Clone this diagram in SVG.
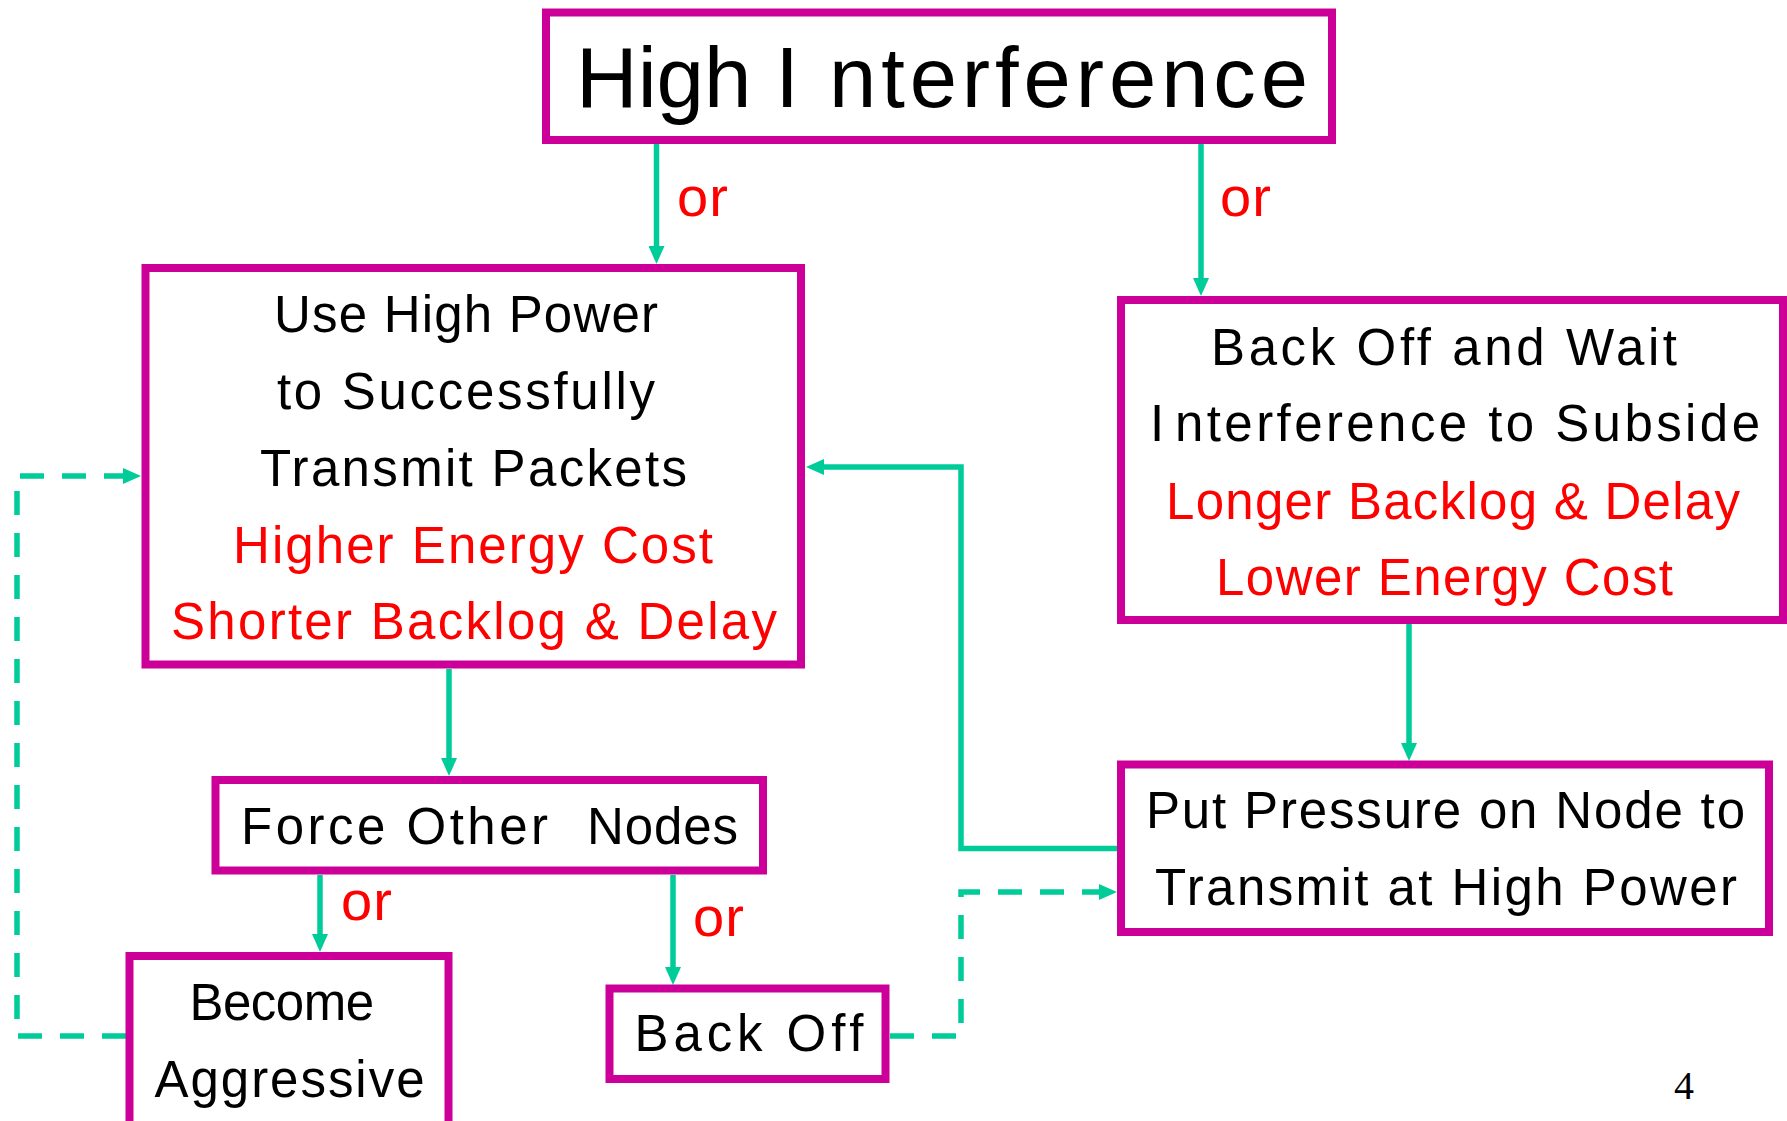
<svg xmlns="http://www.w3.org/2000/svg" width="1787" height="1121" viewBox="0 0 1787 1121">
<style>
.box{fill:#fff;stroke:#CC0099;stroke-width:8}
.t{font-family:"Liberation Sans",Arial,sans-serif;font-size:51px;fill:#000}
.r{fill:#FF0000}
.or{font-family:"Liberation Sans",Arial,sans-serif;font-size:56px;fill:#FF0000}
.c{fill:none;stroke:#00CC99;stroke-width:5.5}
.d{stroke-dasharray:24 18}
</style>
<defs>
<marker id="ah" markerUnits="userSpaceOnUse" markerWidth="18" markerHeight="16" refX="8" refY="8" orient="auto">
<path d="M0,0 L18,8 L0,16 z" fill="#00CC99"/>
</marker>
</defs>
<rect width="1787" height="1121" fill="#fff"/>
<g id="connectors">
<path class="c" d="M656.5,144 V254" marker-end="url(#ah)"/>
<path class="c" d="M1201,144 V286" marker-end="url(#ah)"/>
<path class="c" d="M449,669 V766" marker-end="url(#ah)"/>
<path class="c" d="M320,875 V942" marker-end="url(#ah)"/>
<path class="c" d="M673,875 V975" marker-end="url(#ah)"/>
<path class="c" d="M1409,624 V751" marker-end="url(#ah)"/>
<path class="c" d="M1117,848.5 H961 V467 H816" marker-end="url(#ah)"/>
<path class="c d" d="M126,1036 H17 V476 H131" marker-end="url(#ah)"/>
<path class="c d" d="M890,1036 H961 V892 H1107" marker-end="url(#ah)"/>
<text class="or" x="677" y="216" textLength="51">or</text>
<text class="or" x="1220" y="216" textLength="51">or</text>
<text class="or" x="341" y="920" textLength="51">or</text>
<text class="or" x="693" y="936" textLength="51">or</text>
</g>
<g id="high-interference">
<rect class="box" x="546" y="12.5" width="786" height="127.5"/>
<text class="t" style="font-size:85px"><tspan x="576" y="107" textLength="223" lengthAdjust="spacingAndGlyphs">High I</tspan><tspan x="829" y="107" textLength="479">nterference</tspan></text>
</g>
<g id="use-high-power">
<rect class="box" x="145.5" y="268" width="655.5" height="396.5"/>
<text class="t" x="274" y="332" textLength="384">Use High Power</text>
<text class="t" x="277" y="409" textLength="378">to Successfully</text>
<text class="t" x="260" y="486" textLength="427">Transmit Packets</text>
<text class="t r" x="233" y="562.5" textLength="480">Higher Energy Cost</text>
<text class="t r" x="171" y="639" textLength="606">Shorter Backlog &amp; Delay</text>
</g>
<g id="back-off-and-wait">
<rect class="box" x="1121" y="300" width="662" height="320"/>
<text class="t" x="1211" y="364.5" textLength="466">Back Off and Wait</text>
<text class="t"><tspan x="1150" y="441">I</tspan><tspan x="1175" y="441" textLength="585">nterference to Subside</tspan></text>
<text class="t r" x="1166" y="518.5" textLength="574">Longer Backlog &amp; Delay</text>
<text class="t r" x="1216" y="595" textLength="457">Lower Energy Cost</text>
</g>
<g id="force-other-nodes">
<rect class="box" x="215.5" y="780" width="547.5" height="90.5"/>
<text class="t"><tspan x="241" y="843.5" textLength="307">Force Other</tspan> <tspan x="587" y="843.5" textLength="151">Nodes</tspan></text>
</g>
<g id="become-aggressive">
<rect class="box" x="129.5" y="956" width="319" height="180"/>
<text class="t" x="189.5" y="1020" textLength="184.5">Become</text>
<text class="t" x="154.5" y="1096.5" textLength="270">Aggressive</text>
</g>
<g id="back-off">
<rect class="box" x="609.5" y="988.5" width="276" height="90.5"/>
<text class="t" x="634.5" y="1051" textLength="229">Back Off</text>
</g>
<g id="put-pressure">
<rect class="box" x="1121" y="764.5" width="648" height="167.5"/>
<text class="t" x="1146" y="828" textLength="599">Put Pressure on Node to</text>
<text class="t" x="1155" y="905" textLength="582">Transmit at High Power</text>
</g>
<text x="1674" y="1099" style="font-family:'Liberation Serif','Times New Roman',serif;font-size:40px;fill:#000">4</text>
</svg>
